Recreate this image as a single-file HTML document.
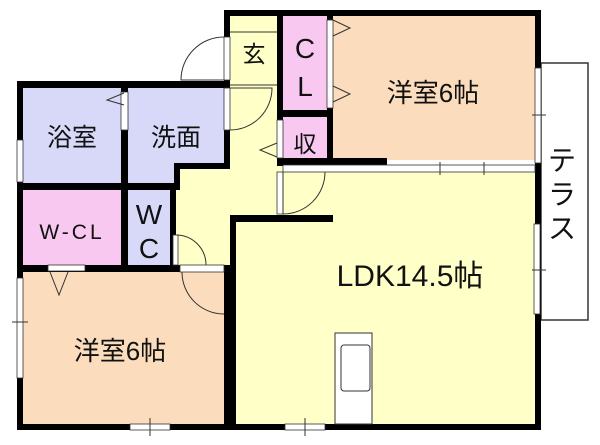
<!DOCTYPE html>
<html><head><meta charset="utf-8"><style>
html,body{margin:0;padding:0;background:#fff;}
svg{display:block;}
text{font-family:"Liberation Sans","Noto Sans CJK JP",sans-serif;fill:#111;}
</style></head><body>
<svg width="600" height="445" viewBox="0 0 600 445">
<rect x="541" y="63" width="47" height="257" fill="#fff" stroke="#333" stroke-width="1.5"/>
<rect x="224" y="10" width="58" height="420" fill="#ffffc8"/>
<rect x="174" y="160" width="110" height="112" fill="#ffffc8"/>
<rect x="230" y="165" width="310" height="262" fill="#ffffc8"/>
<rect x="283" y="16" width="44" height="94" fill="#f8c8f0"/>
<rect x="283" y="117" width="44" height="43" fill="#f8c8f0"/>
<rect x="327" y="16" width="208" height="144" fill="#fbdcbc"/>
<rect x="23" y="88" width="98" height="95" fill="#d8d8f8"/>
<rect x="128" y="88" width="96" height="78" fill="#d8d8f8"/>
<rect x="128" y="160" width="46" height="23" fill="#d8d8f8"/>
<rect x="23" y="190" width="98" height="75" fill="#f8c8f0"/>
<rect x="128" y="190" width="42" height="75" fill="#d8d8f8"/>
<rect x="23" y="272" width="201" height="152" fill="#fbdcbc"/>
<g fill="#000">
<rect x="224" y="10" width="317" height="6"/>
<rect x="535" y="10" width="6" height="420"/>
<rect x="17" y="81" width="213" height="7"/>
<rect x="224" y="10" width="6" height="78"/>
<rect x="17" y="81" width="6" height="349"/>
<rect x="17" y="424" width="524" height="6"/>
<rect x="277" y="16" width="6" height="150"/>
<rect x="327" y="16" width="6" height="150"/>
<rect x="277" y="110" width="56" height="7"/>
<rect x="277" y="158" width="110" height="7"/>
<rect x="121" y="88" width="7" height="184"/>
<rect x="17" y="183" width="161" height="7"/>
<rect x="174" y="163" width="6" height="27"/>
<rect x="174" y="163" width="56" height="6"/>
<rect x="224" y="88" width="6" height="80"/>
<rect x="170" y="183" width="6" height="89"/>
<rect x="17" y="265" width="213" height="7"/>
<rect x="224" y="265" width="6" height="165"/>
<rect x="230" y="215" width="103" height="7"/>
<rect x="230" y="215" width="6" height="215"/>
</g>
<g fill="#fff" stroke="#333" stroke-width="0.8">
<rect x="535" y="68" width="6" height="95"/>
<rect x="534" y="224" width="6" height="90"/>
<rect x="283" y="165" width="252" height="7"/>
<rect x="17" y="140" width="6" height="42"/>
<rect x="17" y="278" width="6" height="100"/>
<rect x="224" y="37" width="6" height="43"/>
<rect x="224" y="88" width="6" height="42"/>
<rect x="327" y="20" width="6" height="88"/>
<rect x="277" y="120" width="6" height="38"/>
<rect x="277" y="172" width="6" height="42"/>
<rect x="121" y="92" width="7" height="38"/>
<rect x="173" y="235" width="5" height="30"/>
<rect x="180" y="265" width="44" height="7"/>
<rect x="48" y="265" width="37" height="6"/>
<rect x="130" y="424" width="40" height="6"/>
<rect x="285" y="424" width="40" height="6"/>
</g>
<g stroke="#333" stroke-width="1" fill="none">
<line x1="230" y1="32" x2="277" y2="32"/>
<line x1="230" y1="85" x2="277" y2="85"/>
<line x1="150" y1="418" x2="150" y2="436"/>
<line x1="305" y1="418" x2="305" y2="436"/>
<line x1="532" y1="115" x2="546" y2="115"/>
<line x1="532" y1="270" x2="546" y2="270"/>
<line x1="12" y1="322" x2="28" y2="322"/>
<line x1="440" y1="162" x2="440" y2="175"/>
<line x1="484" y1="162" x2="484" y2="175"/>
<path d="M224 37 A43 43 0 0 0 181 80 L224 80"/>
<path d="M230 88 L272 88 A42 42 0 0 1 230 130"/>
<path d="M283 172 L283 214 A42 42 0 0 0 325 172"/>
<path d="M176 235 A30 30 0 0 1 206 265"/>
<path d="M182 272 A42 42 0 0 0 224 314"/>
<path d="M124 93 L107 100 L124 105"/>
<path d="M333 20 L350 28 L333 36"/>
<path d="M333 86 L350 94 L333 102"/>
<path d="M277 143 L260 150 L277 157"/>
<path d="M50 272 L59 295 L68 272"/>
</g>
<rect x="335" y="333" width="37" height="91" fill="#fff" stroke="#333" stroke-width="1"/>
<rect x="341" y="345" width="29" height="46" rx="3" fill="#fff" stroke="#333" stroke-width="1"/>
<text x="254" y="62" font-size="23" text-anchor="middle">玄</text>
<text x="305" y="58" font-size="28" text-anchor="middle">C</text>
<text x="305" y="96" font-size="28" text-anchor="middle">L</text>
<text x="305" y="152" font-size="23" text-anchor="middle">収</text>
<text x="433" y="102" font-size="26" text-anchor="middle">洋室6帖</text>
<text x="72" y="146" font-size="25" text-anchor="middle">浴室</text>
<text x="176" y="146" font-size="25" text-anchor="middle">洗面</text>
<text x="72" y="239" font-size="21" text-anchor="middle" letter-spacing="3">W-CL</text>
<text x="149" y="224" font-size="28" text-anchor="middle">W</text>
<text x="149" y="258" font-size="28" text-anchor="middle">C</text>
<text x="120" y="360" font-size="26" text-anchor="middle">洋室6帖</text>
<text x="410" y="286" font-size="30" text-anchor="middle">LDK14.5帖</text>
<text x="562" y="170" font-size="28" text-anchor="middle">テ</text>
<text x="562" y="204" font-size="28" text-anchor="middle">ラ</text>
<text x="562" y="238" font-size="28" text-anchor="middle">ス</text>
</svg>
</body></html>
